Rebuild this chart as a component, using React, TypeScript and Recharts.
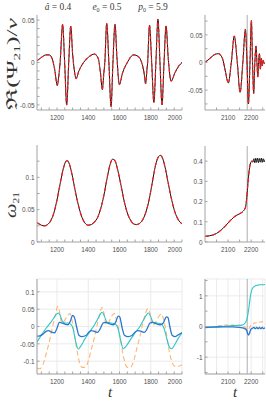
import React from 'react';
import { LineChart, Line, XAxis, YAxis, ReferenceLine, CartesianGrid } from 'recharts';

// row 1: Re(Psi21)/nu, black = NR, red dashed = model
const tPsiL = [1072, 1100, 1130, 1150, 1170, 1185, 1202, 1212, 1220, 1236, 1249, 1262, 1275, 1288, 1300, 1310, 1322, 1340, 1370, 1400, 1440, 1465, 1478, 1490, 1500, 1506, 1518, 1532, 1546, 1558, 1571, 1584, 1599, 1620, 1650, 1690, 1720, 1745, 1757, 1767, 1775, 1780, 1792, 1806, 1820, 1833, 1846, 1859, 1872, 1885, 1898, 1912, 1930, 1955, 1980, 2000];
const psiL = [0.002, 0.006, 0.009, 0.009, 0.004, -0.008, -0.027, -0.015, 0, 0.045, 0, -0.05, 0, 0.043, 0.01, -0.008, -0.019, -0.01, 0, 0.006, 0.01, 0.004, -0.012, -0.032, -0.012, 0, 0.046, 0, -0.052, 0, 0.045, 0.005, -0.026, -0.012, 0, 0.009, 0.007, -0.002, -0.012, -0.025, -0.01, 0, 0.044, 0, -0.047, 0, 0.051, 0, -0.05, 0, 0.043, 0.005, -0.022, -0.012, -0.004, 0];
const tPsiR = [2000, 2020, 2040, 2058, 2075, 2088, 2101, 2114, 2127, 2140, 2152, 2164, 2175, 2182, 2188, 2195, 2201, 2206, 2211, 2216, 2221, 2225, 2229, 2232, 2236, 2240, 2244, 2248, 2252, 2256, 2260];
const psiR = [0, 0.007, 0.014, 0.016, 0.008, -0.015, -0.037, 0, 0.048, 0, -0.054, 0, 0.06, 0, -0.075, 0, 0.076, 0, -0.056, 0, 0.03, 0, -0.026, 0, 0.016, -0.012, 0.008, -0.006, 0.004, -0.002, 0];

// row 2: omega21
const tOmL = [1072, 1100, 1120, 1140, 1160, 1180, 1200, 1220, 1240, 1255, 1265, 1280, 1300, 1320, 1340, 1360, 1380, 1400, 1420, 1440, 1460, 1480, 1500, 1520, 1540, 1555, 1570, 1590, 1610, 1630, 1650, 1670, 1690, 1710, 1730, 1750, 1770, 1790, 1810, 1830, 1850, 1862, 1875, 1895, 1915, 1935, 1955, 1975, 2000];
const omL = [0.03, 0.026, 0.025, 0.027, 0.033, 0.045, 0.065, 0.09, 0.113, 0.124, 0.126, 0.12, 0.1, 0.075, 0.054, 0.038, 0.029, 0.026, 0.027, 0.031, 0.038, 0.052, 0.072, 0.098, 0.12, 0.128, 0.126, 0.11, 0.087, 0.063, 0.045, 0.034, 0.028, 0.027, 0.029, 0.035, 0.047, 0.066, 0.092, 0.118, 0.132, 0.134, 0.13, 0.112, 0.087, 0.064, 0.046, 0.035, 0.028];
const tOmR = [2000, 2020, 2040, 2060, 2080, 2100, 2115, 2127, 2150, 2163, 2175, 2181, 2186, 2191, 2196, 2203, 2208, 2212, 2216, 2220, 2224, 2228, 2232, 2236, 2240, 2244, 2248, 2252, 2256, 2260];
const omR = [0.028, 0.031, 0.037, 0.05, 0.07, 0.094, 0.112, 0.125, 0.14, 0.15, 0.17, 0.22, 0.29, 0.35, 0.385, 0.4, 0.395, 0.412, 0.392, 0.414, 0.394, 0.415, 0.393, 0.413, 0.395, 0.415, 0.394, 0.412, 0.396, 0.408];
const tOmModelR = [2000, 2020, 2040, 2060, 2080, 2100, 2115, 2127, 2150, 2163, 2175, 2181, 2186, 2191, 2196, 2203, 2210];
const omModelR = [0.028, 0.031, 0.037, 0.05, 0.07, 0.094, 0.112, 0.125, 0.14, 0.15, 0.17, 0.22, 0.29, 0.35, 0.385, 0.4, 0.402];

// row 3: three components
const tCyanL = [1072, 1100, 1130, 1160, 1180, 1200, 1208, 1220, 1235, 1250, 1270, 1290, 1305, 1320, 1336, 1350, 1380, 1410, 1440, 1465, 1480, 1490, 1505, 1520, 1545, 1570, 1590, 1605, 1624, 1640, 1670, 1700, 1730, 1755, 1775, 1785, 1800, 1815, 1840, 1865, 1885, 1900, 1920, 1935, 1950, 1975, 2000];
const cyanL = [-0.045, -0.025, -0.005, 0.012, 0.025, 0.037, 0.039, 0.032, 0.015, 0.01, 0.01, 0.006, -0.01, -0.045, -0.065, -0.058, -0.035, -0.015, 0.005, 0.025, 0.038, 0.041, 0.028, 0.012, 0.01, 0.008, -0.005, -0.035, -0.064, -0.058, -0.038, -0.018, 0, 0.02, 0.035, 0.039, 0.028, 0.012, 0.01, 0.008, -0.005, -0.03, -0.06, -0.064, -0.055, -0.035, -0.018];
const tBlueL = [1072, 1090, 1110, 1130, 1145, 1165, 1185, 1200, 1215, 1235, 1255, 1270, 1285, 1300, 1310, 1325, 1340, 1360, 1385, 1405, 1420, 1440, 1460, 1475, 1495, 1510, 1535, 1560, 1575, 1592, 1602, 1615, 1632, 1655, 1680, 1700, 1718, 1740, 1760, 1775, 1795, 1810, 1835, 1860, 1880, 1900, 1910, 1922, 1937, 1957, 1980, 2000];
const blueL = [-0.028, -0.027, -0.022, -0.014, -0.012, -0.016, -0.018, -0.005, 0.012, 0.01, 0.006, 0.005, 0.015, 0.032, 0.028, 0, -0.025, -0.029, -0.026, -0.016, -0.012, -0.014, -0.017, -0.008, 0.01, 0.012, 0.008, 0.005, 0.012, 0.03, 0.027, 0, -0.025, -0.029, -0.026, -0.016, -0.012, -0.014, -0.017, -0.008, 0.01, 0.012, 0.008, 0.005, 0.01, 0.028, 0.026, 0, -0.025, -0.029, -0.023, -0.018];
const tOrangeL = [1072, 1090, 1110, 1130, 1150, 1170, 1190, 1205, 1215, 1230, 1245, 1265, 1283, 1295, 1310, 1330, 1345, 1360, 1380, 1400, 1420, 1440, 1460, 1475, 1488, 1500, 1515, 1530, 1550, 1568, 1580, 1600, 1620, 1635, 1650, 1670, 1690, 1710, 1730, 1750, 1768, 1782, 1795, 1810, 1830, 1850, 1870, 1882, 1900, 1920, 1938, 1955, 1975, 2000];
const orangeL = [-0.12, -0.122, -0.11, -0.08, -0.045, -0.005, 0.035, 0.058, 0.045, 0.01, 0.015, 0.03, 0.037, 0.02, -0.02, -0.075, -0.105, -0.118, -0.118, -0.1, -0.065, -0.03, 0.01, 0.04, 0.055, 0.04, 0.005, 0.012, 0.03, 0.038, 0.02, -0.02, -0.075, -0.105, -0.118, -0.118, -0.1, -0.065, -0.03, 0.01, 0.04, 0.052, 0.038, 0.003, 0.012, 0.028, 0.036, 0.02, -0.02, -0.075, -0.105, -0.115, -0.115, -0.11];
const tCyanR = [2000, 2040, 2080, 2120, 2150, 2165, 2175, 2183, 2190, 2196, 2202, 2210, 2218, 2228, 2238, 2248, 2260];
const cyanR = [-0.02, -0.01, 0.01, 0.03, 0.04, 0.06, 0.12, 0.28, 0.6, 0.95, 1.18, 1.28, 1.33, 1.35, 1.36, 1.36, 1.37];
const tBlueR = [2000, 2040, 2080, 2120, 2150, 2170, 2180, 2188, 2193, 2198, 2205, 2212, 2218, 2224, 2230, 2236, 2242, 2248, 2254, 2260];
const blueR = [-0.03, -0.02, -0.01, -0.01, -0.03, -0.06, -0.12, -0.28, -0.22, -0.1, -0.06, -0.03, -0.07, -0.03, -0.07, -0.03, -0.07, -0.03, -0.07, -0.04];
const tOrangeR = [2000, 2030, 2060, 2100, 2130, 2160, 2175, 2185, 2192, 2200, 2210, 2225, 2245, 2260];
const orangeR = [-0.05, -0.02, 0.02, 0.05, 0.05, 0.02, -0.04, -0.1, -0.05, 0.05, 0.1, 0.13, 0.15, 0.16];

// ticks
const xTicksL = [1100, 1150, 1200, 1250, 1300, 1350, 1400, 1450, 1500, 1550, 1600, 1650, 1700, 1750, 1800, 1850, 1900, 1950, 2000];
const xLabelsL = [1200, 1400, 1600, 1800, 2000];
const xTicksR = [2050, 2100, 2150, 2200, 2250];
const xLabelsR = [2100, 2200];
const mergerT = 2183;

type Pt = { t: number; v: number };
type Series = { data: Pt[]; color: string; width: number; dash?: string };

const pts = (t: number[], v: number[]): Pt[] => t.map((x, i) => ({ t: x, v: v[i] }));

const FRAME = '#a3a3a3';
const PAD_L = 34, PAD_T = 3, PAD_R = 10, PAD_B = 16;
const BLACK = '#111';
const RED = '#ff1a1a';
const CYAN = '#2cc6c8';
const BLUE = '#2877cf';
const ORANGE = '#ffb472';

const label = (v: number) => (v < 0 ? '-' + String(-v) : String(v));

// tick labels: only the labelled values get text; a label at the right edge is right-aligned
const makeTick = (labels: number[], side: 'bottom' | 'left', edge?: number) => (p: any) => {
  const v = p.payload.value;
  if (!labels.includes(v)) return <g />;
  const anchor = side === 'left' ? 'end' : v === edge ? 'end' : 'middle';
  return (
    <g transform={`translate(${p.x},${p.y})`}>
      <text
        transform="scale(0.8,1)"
        textAnchor={anchor}
        dy={side === 'bottom' ? 8 : 2.8}
        fontSize={8}
        fill="#505050"
        fontFamily="'Liberation Sans', Arial, sans-serif"
      >
        {label(v)}
      </text>
    </g>
  );
};
const blankTick = () => <g />;

interface PanelProps {
  x: number; y: number; w: number; h: number;
  xDomain: [number, number]; yDomain: [number, number];
  xTicks: number[]; xLabels: number[];
  yTicks: number[]; yLabels: number[];
  topTicks?: number[]; rightTicks?: number[];
  grid?: boolean;
  merger?: number;
  series: Series[];
}

const Panel: React.FC<PanelProps> = (p) => (
  <div style={{ position: 'absolute', left: p.x - PAD_L, top: p.y - PAD_T }}>
    <LineChart width={p.w + PAD_L + PAD_R} height={p.h + PAD_T + PAD_B} margin={{ top: PAD_T, right: PAD_R, bottom: 0, left: 0 }}>
      {p.grid && <CartesianGrid xAxisId="top" yAxisId="right" stroke="#e6e6e6" strokeWidth={0.8} />}
      <XAxis xAxisId="bottom" type="number" dataKey="t" domain={p.xDomain} allowDataOverflow ticks={p.xTicks} interval={0}
        height={PAD_B} tickSize={-2.5} tickMargin={5} axisLine={{ stroke: FRAME }} tickLine={{ stroke: FRAME }}
        tick={makeTick(p.xLabels, 'bottom', p.xDomain[1])} />
      <XAxis xAxisId="top" orientation="top" type="number" dataKey="t" domain={p.xDomain} allowDataOverflow ticks={p.topTicks ?? p.xTicks} interval={0}
        height={0} tickSize={-2.5} axisLine={{ stroke: FRAME }} tickLine={{ stroke: FRAME }} tick={blankTick} />
      <YAxis yAxisId="left" type="number" domain={p.yDomain} allowDataOverflow ticks={p.yTicks} interval={0}
        width={PAD_L} tickSize={-2.5} tickMargin={5} axisLine={{ stroke: FRAME }} tickLine={{ stroke: FRAME }} tick={makeTick(p.yLabels, 'left')} />
      <YAxis yAxisId="right" orientation="right" type="number" domain={p.yDomain} allowDataOverflow ticks={p.rightTicks ?? p.yTicks} interval={0}
        width={0} tickSize={-2.5} axisLine={{ stroke: FRAME }} tickLine={{ stroke: FRAME }} tick={blankTick} />
      <Line xAxisId="top" yAxisId="right" data={p.series[0].data} dataKey="v" stroke="none" dot={false} activeDot={false} isAnimationActive={false} />
      {p.merger !== undefined && <ReferenceLine xAxisId="bottom" yAxisId="left" x={p.merger} stroke="#9a9a9a" strokeWidth={0.8} />}
      {p.series.map((s, i) => (
        <Line key={i} xAxisId="bottom" yAxisId="left" data={s.data} dataKey="v" type="monotone" stroke={s.color}
          strokeWidth={s.width} strokeDasharray={s.dash} dot={false} activeDot={false} isAnimationActive={false} />
      ))}
    </LineChart>
  </div>
);

const serif = "'Liberation Serif', 'DejaVu Serif', serif";

export default function App() {
  return (
    <div style={{ position: 'absolute', left: 0, top: 0, width: 266, height: 403, overflow: 'hidden', background: '#fff' }}>
      <Panel x={37} y={15} w={145} h={95} xDomain={[1072, 2000]} yDomain={[-0.056, 0.056]}
        xTicks={xTicksL} xLabels={xLabelsL}
        yTicks={[-0.05, -0.04, -0.03, -0.02, -0.01, 0, 0.01, 0.02, 0.03, 0.04, 0.05]} yLabels={[-0.05, 0, 0.05]}
        series={[
          { data: pts(tPsiL, psiL), color: BLACK, width: 1 },
          { data: pts(tPsiL, psiL), color: RED, width: 1.2, dash: '3 2.5' },
        ]} />
      <Panel x={205} y={15} w={60} h={95} xDomain={[2000, 2260]} yDomain={[-0.086, 0.086]}
        xTicks={xTicksR} xLabels={xLabelsR}
        yTicks={[-0.075, -0.05, -0.025, 0, 0.025, 0.05, 0.075]} yLabels={[-0.05, 0, 0.05]} merger={mergerT}
        series={[
          { data: pts(tPsiR, psiR), color: BLACK, width: 1 },
          { data: pts(tPsiR, psiR), color: RED, width: 1.2, dash: '3 2.5' },
        ]} />
      <Panel x={37} y={145} w={145} h={97} xDomain={[1072, 2000]} yDomain={[0, 0.15]}
        xTicks={xTicksL} xLabels={xLabelsL}
        yTicks={[0, 0.025, 0.05, 0.075, 0.1, 0.125]} yLabels={[0, 0.05, 0.1]}
        series={[
          { data: pts(tOmL, omL), color: BLACK, width: 1 },
          { data: pts(tOmL, omL), color: RED, width: 1.2, dash: '4 3' },
        ]} />
      <Panel x={205} y={146} w={60} h={96} xDomain={[2000, 2260]} yDomain={[0, 0.475]}
        xTicks={xTicksR} xLabels={xLabelsR}
        yTicks={[0, 0.1, 0.2, 0.3, 0.4]} yLabels={[0, 0.1, 0.2, 0.3, 0.4]} merger={mergerT}
        series={[
          { data: pts(tOmR, omR), color: BLACK, width: 1 },
          { data: pts(tOmModelR, omModelR), color: RED, width: 1.2, dash: '4 3' },
        ]} />
      <Panel x={37} y={279} w={145} h={95} xDomain={[1072, 2000]} yDomain={[-0.137, 0.137]}
        xTicks={xTicksL} xLabels={xLabelsL} topTicks={xLabelsL}
        yTicks={[-0.1, -0.05, 0, 0.05, 0.1]} yLabels={[-0.1, -0.05, 0, 0.05, 0.1]} grid
        series={[
          { data: pts(tOrangeL, orangeL), color: ORANGE, width: 1.1, dash: '5 3' },
          { data: pts(tCyanL, cyanL), color: CYAN, width: 1.1 },
          { data: pts(tBlueL, blueL), color: BLUE, width: 1.3 },
        ]} />
      <Panel x={205} y={279} w={60} h={95} xDomain={[2000, 2260]} yDomain={[-1.55, 1.55]}
        xTicks={xTicksR} xLabels={xLabelsR} topTicks={xTicksR}
        yTicks={[-1.5, -1, -0.5, 0, 0.5, 1, 1.5]} yLabels={[-1, 0, 1]} rightTicks={[-1, 0, 1]} grid merger={mergerT}
        series={[
          { data: pts(tOrangeR, orangeR), color: ORANGE, width: 1.1, dash: '4 2.5' },
          { data: pts(tCyanR, cyanR), color: CYAN, width: 1.1 },
          { data: pts(tBlueR, blueR), color: BLUE, width: 1.3 },
        ]} />
      <svg width={266} height={403} style={{ position: 'absolute', left: 0, top: 0, pointerEvents: 'none' }}>
        <g fontFamily={serif} fill="#3a3a3a" fontSize={9.5}>
          <text x={58} y={10} textAnchor="middle"><tspan fontStyle="italic">â</tspan> = 0.4</text>
          <text x={107} y={10} textAnchor="middle"><tspan fontStyle="italic">e</tspan><tspan dy={2} fontSize={6}>0</tspan><tspan dy={-2}> = 0.5</tspan></text>
          <text x={153} y={10} textAnchor="middle"><tspan fontStyle="italic">p</tspan><tspan dy={2} fontSize={6}>0</tspan><tspan dy={-2}> = 5.9</tspan></text>
        </g>
        <g fontFamily={serif} fill="#333">
          <text transform="translate(17,64) rotate(-90)" textAnchor="middle" fontSize={15} textLength={92} lengthAdjust="spacingAndGlyphs">
            ℜ(Ψ<tspan dy={3} fontSize={9}>21</tspan><tspan dy={-3}>)/</tspan><tspan fontStyle="italic">ν</tspan>
          </text>
          <text transform="translate(16,205) rotate(-90)" textAnchor="middle" fontSize={16} textLength={26} lengthAdjust="spacingAndGlyphs">
            <tspan fontStyle="italic">ω</tspan><tspan dy={3} fontSize={9}>21</tspan>
          </text>
          <text x={110} y={397} textAnchor="middle" fontSize={15} fontStyle="italic">t</text>
          <text x={235} y={397} textAnchor="middle" fontSize={15} fontStyle="italic">t</text>
        </g>
      </svg>
    </div>
  );
}
